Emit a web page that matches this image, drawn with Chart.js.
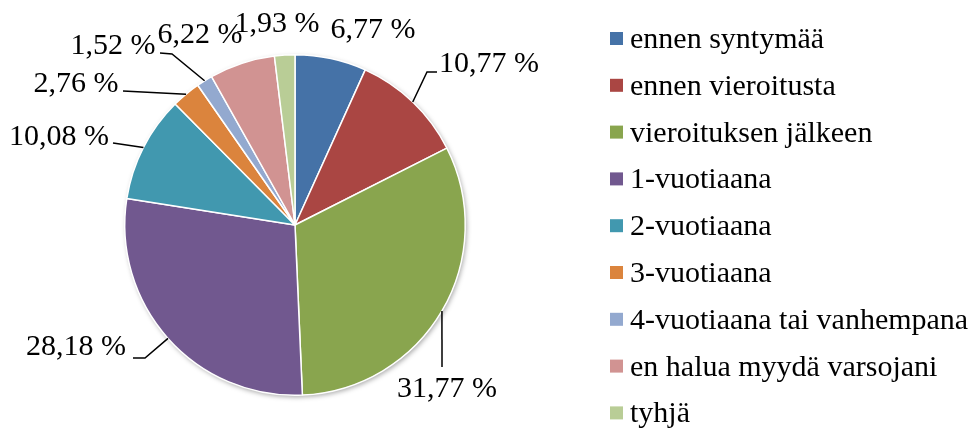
<!DOCTYPE html>
<html>
<head>
<meta charset="utf-8">
<script src="https://cdn.jsdelivr.net/npm/chart.js@4/dist/chart.umd.min.js"></script>
<style>
  html, body { margin: 0; padding: 0; background: #fff; }
  canvas { display: block; }
</style>
</head>
<body>
<canvas id="piechart" width="972" height="430"></canvas>
<script>
const categories = ['ennen syntymää', 'ennen vieroitusta', 'vieroituksen jälkeen', '1-vuotiaana',
    '2-vuotiaana', '3-vuotiaana', '4-vuotiaana tai vanhempana', 'en halua myydä varsojani', 'tyhjä'];
const shares = [6.77, 10.77, 31.77, 28.18, 10.08, 2.76, 1.52, 6.22, 1.93];
const sliceColors = ['#4572A7', '#AA4643', '#89A54E', '#71588F', '#4198AF', '#DB843D', '#93A9CF', '#D19392', '#B9CD96'];

// where each data label sits relative to the pie centre, and the leader bends (if any)
const labelLayout = [
    { text: [78, -187], bends: [] , leader: false },
    { text: [194, -153], bends: [[132, -153], [142, -153]], leader: true },
    { text: [152, 172], bends: [[147, 142]], leader: true },
    { text: [-219, 130], bends: [[-150, 133], [-162, 133]], leader: true },
    { text: [-236, -80], bends: [[-182, -82]], leader: true },
    { text: [-219, -133], bends: [[-172, -134]], leader: true },
    { text: [-182, -171], bends: [[-123, -171], [-135, -172]], leader: true },
    { text: [-95, -182], bends: [], leader: false },
    { text: [-18, -193], bends: [], leader: false },
];

const serif = '"Liberation Serif", "Times New Roman", serif';

function fmt(v) {
    return v.toFixed(2).replace('.', ',') + ' %';
}

const pieShadow = {
    id: 'pieShadow',
    beforeDatasetsDraw(chart) {
        const arc = chart.getDatasetMeta(0).data[0];
        if (!arc) return;
        const ctx = chart.ctx;
        ctx.save();
        ctx.shadowColor = 'rgba(0,0,0,0.35)';
        ctx.shadowBlur = 5;
        ctx.shadowOffsetX = 1.5;
        ctx.shadowOffsetY = 2;
        ctx.beginPath();
        ctx.arc(arc.x, arc.y, arc.outerRadius, 0, Math.PI * 2);
        ctx.fillStyle = '#fff';
        ctx.fill();
        ctx.restore();
    }
};

const pieLabels = {
    id: 'pieLabels',
    afterDraw(chart) {
        const ctx = chart.ctx;
        const arcs = chart.getDatasetMeta(0).data;
        ctx.save();
        ctx.font = '30px ' + serif;
        ctx.fillStyle = '#000';
        ctx.strokeStyle = '#000';
        ctx.lineWidth = 1.5;
        ctx.textAlign = 'center';
        ctx.textBaseline = 'alphabetic';
        arcs.forEach((arc, i) => {
            const lay = labelLayout[i];
            const cx = arc.x, cy = arc.y;
            if (lay.leader) {
                const mid = (arc.startAngle + arc.endAngle) / 2;
                const ex = cx + Math.cos(mid) * arc.outerRadius;
                const ey = cy + Math.sin(mid) * arc.outerRadius;
                ctx.beginPath();
                ctx.moveTo(ex, ey);
                lay.bends.forEach(p => ctx.lineTo(cx + p[0], cy + p[1]));
                ctx.stroke();
            }
            ctx.fillText(fmt(shares[i]), cx + lay.text[0], cy + lay.text[1]);
        });

        // legend
        ctx.font = '30px ' + serif;
        ctx.textAlign = 'left';
        categories.forEach((name, i) => {
            const yc = 38.5 + i * 46.8;
            ctx.fillStyle = sliceColors[i];
            ctx.fillRect(610, yc - 6.5, 13, 13);
            ctx.fillStyle = '#000';
            ctx.fillText(name, 630, yc + 9.5);
        });
        ctx.restore();
    }
};

new Chart(document.getElementById('piechart').getContext('2d'), {
    type: 'pie',
    data: {
        labels: categories,
        datasets: [{
            data: shares,
            backgroundColor: sliceColors,
            borderColor: '#fff',
            borderWidth: 1.5,
        }]
    },
    options: {
        responsive: false,
        animation: false,
        layout: { padding: { left: 124, right: 506, top: 54, bottom: 34 } },
        plugins: {
            legend: { display: false },
            tooltip: { enabled: false },
        },
    },
    plugins: [pieShadow, pieLabels],
});
</script>
</body>
</html>
